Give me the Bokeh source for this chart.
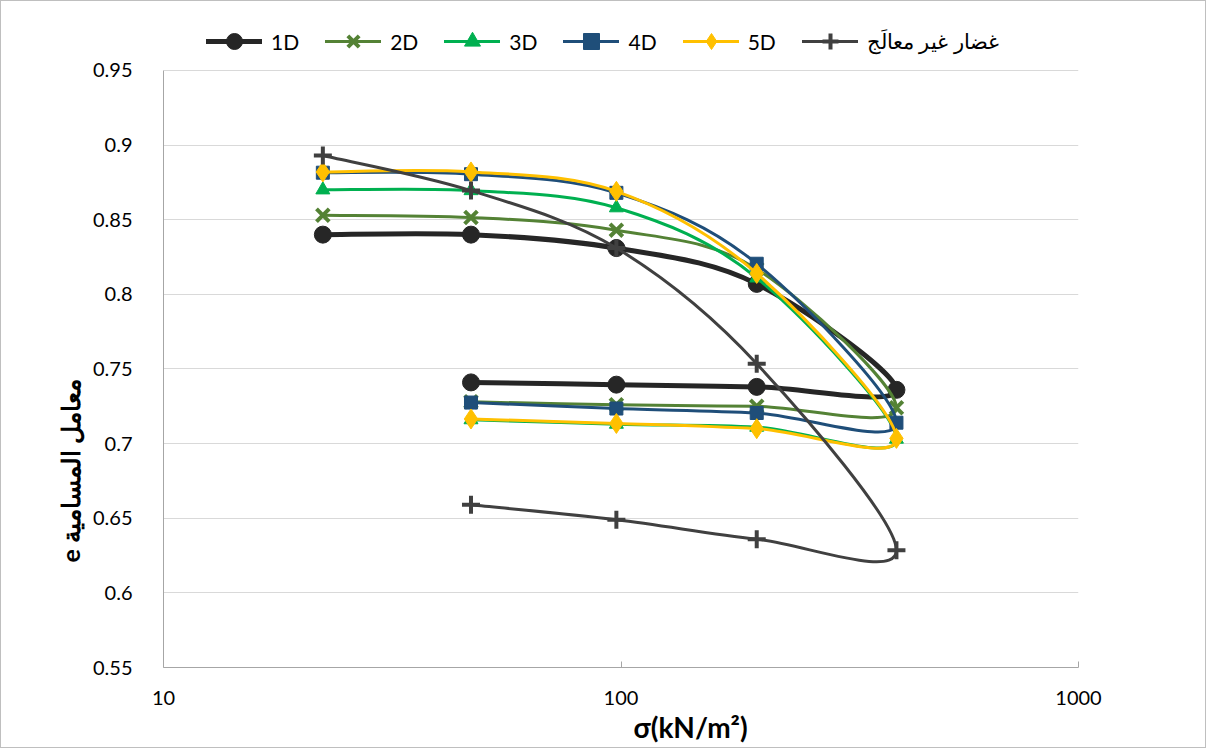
import numpy as np
from bokeh.plotting import figure
from bokeh.models import (ColumnDataSource, FixedTicker, CustomJSTickFormatter,
                          Legend, LegendItem, Title, Range1d)
from bokeh.embed import file_html
from bokeh.resources import INLINE

# ---- data (stress path: loading then unloading) ----
stress = [22.3, 47, 97.7, 198, 400, 198, 97.7, 47]
series_names = ["1D", "2D", "3D", "4D", "5D", "غضار غير معالَج"]
e_1D = [0.840, 0.840, 0.831, 0.807, 0.736, 0.738, 0.7395, 0.741]
e_2D = [0.853, 0.8515, 0.843, 0.817, 0.724, 0.725, 0.726, 0.728]
e_3D = [0.870, 0.8695, 0.858, 0.811, 0.703, 0.711, 0.713, 0.716]
e_4D = [0.8815, 0.8805, 0.868, 0.8205, 0.714, 0.7205, 0.7235, 0.7275]
e_5D = [0.882, 0.882, 0.869, 0.814, 0.7035, 0.710, 0.7135, 0.7165]
e_untreated = [0.893, 0.8695, 0.831, 0.7535, 0.6285, 0.636, 0.649, 0.659]
y_ticks = [0.55, 0.6, 0.65, 0.7, 0.75, 0.8, 0.85, 0.9, 0.95]
x_ticks = [10, 100, 1000]
y_min, y_max = 0.55, 0.95
legend_room = 0.0348  # extra range above 0.95 that holds the legend

FONT = "Lato"


def smooth_segments(xs, ys):
    """Excel-like smoothed line: cubic Bezier segments (Catmull-Rom control
    points) computed in log-x / linear-y space, mapped back to data units."""
    P = np.column_stack([np.log10(np.asarray(xs, float)), np.asarray(ys, float)])
    n = len(P)
    out = {k: [] for k in ("x0", "y0", "x1", "y1", "cx0", "cy0", "cx1", "cy1")}
    for i in range(n - 1):
        pm = P[i - 1] if i > 0 else P[i]
        p0, p1 = P[i], P[i + 1]
        p2 = P[i + 2] if i + 2 < n else P[i + 1]
        c0 = p0 + (p1 - pm) / 6.0
        c1 = p1 - (p2 - p0) / 6.0
        out["x0"].append(10 ** p0[0]); out["y0"].append(p0[1])
        out["x1"].append(10 ** p1[0]); out["y1"].append(p1[1])
        out["cx0"].append(10 ** c0[0]); out["cy0"].append(c0[1])
        out["cx1"].append(10 ** c1[0]); out["cy1"].append(c1[1])
    return out


p = figure(width=1206, height=748, x_axis_type="log",
           x_range=Range1d(10, 1000), y_range=Range1d(y_min, y_max + legend_room),
           output_backend="svg", toolbar_location=None,
           min_border_left=162, min_border_right=129,
           min_border_top=17, min_border_bottom=82)
p.styles = {"border": "1px solid #bfbfbf"}
p.outline_line_color = None
p.background_fill_color = "white"
p.border_fill_color = "white"

# grid
p.xgrid.grid_line_color = None
p.ygrid.grid_line_color = "#d9d9d9"
p.ygrid.grid_line_width = 1
p.ygrid.ticker = FixedTicker(ticks=y_ticks)

# axes
p.yaxis.ticker = FixedTicker(ticks=y_ticks)
p.yaxis.bounds = (y_min, y_max)
p.yaxis.formatter = CustomJSTickFormatter(code="return (Math.round(tick*100)/100).toString();")
p.yaxis.major_tick_line_color = None
p.yaxis.minor_tick_line_color = None
p.yaxis.axis_line_color = "#a6a6a6"
p.yaxis.major_label_standoff = 25

p.xaxis.ticker = FixedTicker(ticks=x_ticks)
p.xaxis.formatter = CustomJSTickFormatter(code="return tick.toString();")
p.xaxis.major_tick_in = 6
p.xaxis.major_tick_out = 0
p.xaxis.major_tick_line_color = "#a6a6a6"
p.xaxis.minor_tick_line_color = None
p.xaxis.axis_line_color = "#a6a6a6"
p.xaxis.major_label_standoff = 23

for ax in (p.xaxis, p.yaxis):
    ax.major_label_text_font = FONT
    ax.major_label_text_font_size = "20px"
    ax.major_label_text_color = "#000000"

styles = [
    dict(color="#262626", lw=5, marker="circle", size=17, mlw=1, fill=True),
    dict(color="#548235", lw=3, marker="x", size=18, mlw=4, fill=False),
    dict(color="#00B050", lw=3, marker="triangle", size=14, mlw=1, fill=True),
    dict(color="#1F4E79", lw=3, marker="square", size=13, mlw=1, fill=True),
    dict(color="#FFC000", lw=3, marker="diamond", size=20, mlw=1, fill=True),
    dict(color="#404040", lw=3, marker="cross", size=18, mlw=4, fill=False),
]
all_series = [e_1D, e_2D, e_3D, e_4D, e_5D, e_untreated]

items = []
for name, ys, st in zip(series_names, all_series, styles):
    seg = ColumnDataSource(smooth_segments(stress, ys))
    br = p.bezier(x0="x0", y0="y0", x1="x1", y1="y1", cx0="cx0", cy0="cy0",
                  cx1="cx1", cy1="cy1", source=seg, line_color=st["color"],
                  line_width=st["lw"], line_cap="round")
    pts = ColumnDataSource(dict(x=stress, y=ys))
    sr = p.scatter(x="x", y="y", source=pts, marker=st["marker"], size=st["size"],
                   line_color=st["color"], line_width=st["mlw"],
                   fill_color=st["color"] if st["fill"] else None)
    items.append(LegendItem(label=name, renderers=[br, sr]))

legend = Legend(items=items, orientation="horizontal", location=(43, 606),
                label_text_font=FONT, label_text_font_size="21px",
                label_text_color="#000000",
                glyph_width=56, glyph_height=40, label_standoff=9, spacing=26,
                padding=0, margin=0, border_line_color=None,
                background_fill_alpha=0)
p.add_layout(legend)

p.add_layout(Title(text="σ(kN/m²)", align="left", offset=470,
                   text_font=FONT, text_font_size="28px", text_font_style="bold",
                   text_color="#000000", standoff=0), "below")
p.add_layout(Title(text="e معامل المسامية", align="left", offset=105,
                   text_font=FONT, text_font_size="25px", text_font_style="bold",
                   text_color="#000000", standoff=10), "left")

open("out.html", "w").write(file_html(p, INLINE))
